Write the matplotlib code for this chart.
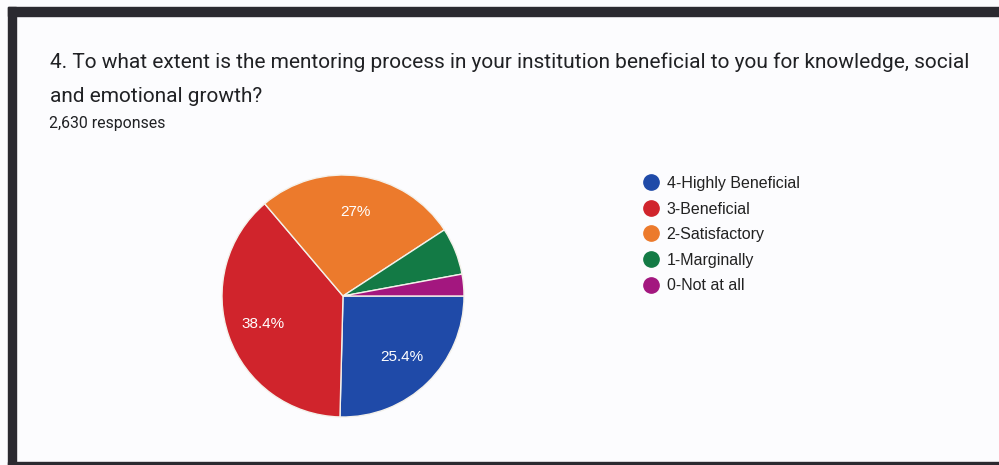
import matplotlib
matplotlib.use('Agg')
import matplotlib.pyplot as plt
from matplotlib.patches import Rectangle
from matplotlib.lines import Line2D

W, H = 999, 465

labels = ['4-Highly Beneficial', '3-Beneficial', '2-Satisfactory', '1-Marginally', '0-Not at all']
shares = [25.4, 38.4, 27.0, 6.3, 2.9]
colors = ['#1f4aa8', '#d0242c', '#ec7a2c', '#137a45', '#a3177f']

title_lines = ['4. To what extent is the mentoring process in your institution beneficial to you for knowledge, social',
               'and emotional growth?']
subtitle = '2,630 responses'

fig = plt.figure(figsize=(W / 100, H / 100), dpi=100)
fig.patch.set_facecolor('#fcfcfe')

def px(x, y):
    return x / W, 1 - y / H

# scanned frame
frame = '#2b2a30'
fig.patches.append(Rectangle(px(8, 16), (W - 8) / W, 9 / H, transform=fig.transFigure, color=frame))
fig.patches.append(Rectangle(px(8, H), 8 / W, (H - 7) / H, transform=fig.transFigure, color=frame))
fig.patches.append(Rectangle(px(8, H), (W - 8) / W, 3.5 / H, transform=fig.transFigure, color=frame))

fig.text(*px(50, 68), title_lines[0], fontsize=15, family='Roboto', color='#202124', va='baseline')
fig.text(*px(50, 102), title_lines[1], fontsize=15, family='Roboto', color='#202124', va='baseline')
fig.text(*px(49, 128), subtitle, fontsize=11.4, family='Roboto', color='#202124', va='baseline')

# pie
cx, cy, r = 343, 296, 121
ax = fig.add_axes([(cx - r) / W, 1 - (cy + r) / H, 2 * r / W, 2 * r / H])
ax.set_facecolor('none')

def fmt(p):
    if p < 7:
        return ''
    return f'{p:.1f}'.rstrip('0').rstrip('.') + '%'

wedges, _, autotexts = ax.pie(shares, colors=colors, startangle=0, counterclock=False,
                              autopct=fmt, pctdistance=0.7, radius=1,
                              wedgeprops=dict(edgecolor='#f4f1ea', linewidth=1))
for t in autotexts:
    t.set_color('white')
    t.set_fontsize(11)
    t.set_family('Liberation Sans')
ax.set_xlim(-1, 1)
ax.set_ylim(-1, 1)
ax.set_aspect('auto')
ax.axis('off')

handles = [Line2D([], [], marker='o', linestyle='none', markersize=11,
                  markerfacecolor=c, markeredgecolor=c) for c in colors]
fig.legend(handles, labels, loc='upper left', bbox_to_anchor=px(645, 176), frameon=False,
           prop={'family': 'Liberation Sans', 'size': 11.5}, labelspacing=0.66,
           handlelength=0.8, handletextpad=0.55, borderpad=0, borderaxespad=0,
           labelcolor='#222222')

fig.savefig('out.png', dpi=100, facecolor=fig.get_facecolor())
